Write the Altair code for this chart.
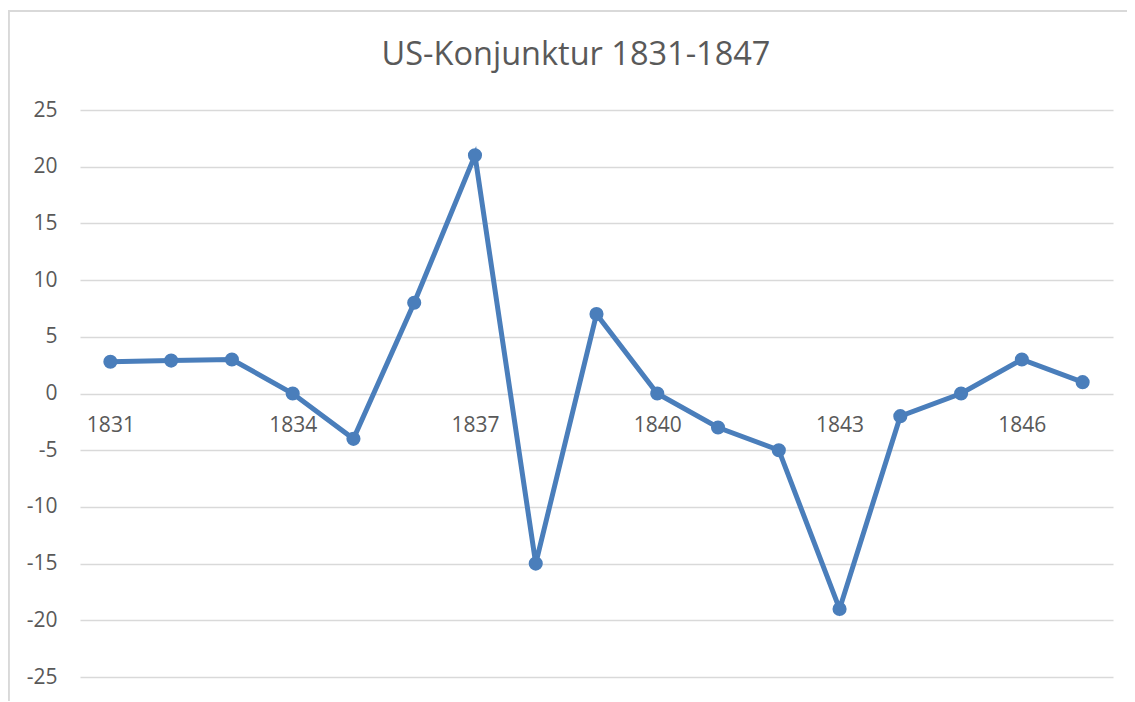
import altair as alt
import pandas as pd

years = [str(y) for y in range(1831, 1848)]
values = [2.8, 2.9, 3.0, 0, -4, 8, 21, -15, 7, 0, -3, -5, -19, -2, 0, 3, 1]
x_labels = ["1831", "1834", "1837", "1840", "1843", "1846"]
y_ticks = [-25, -20, -15, -10, -5, 0, 5, 10, 15, 20, 25]
title_text = "US-Konjunktur 1831-1847"

df = pd.DataFrame({"Jahr": years, "Wert": values})

FONT = "Open Sans"
GREY = "#595959"
BLUE = "#4a7ebb"

W, H = 1033, 567

x_enc = alt.X(
    "Jahr:O",
    scale=alt.Scale(type="point", padding=0.5),
    axis=alt.Axis(
        values=x_labels, title=None, domain=False, ticks=False, grid=False,
        labelAngle=0, labelFont=FONT, labelFontSize=21, labelColor=GREY,
        labelPadding=21, offset=-284, orient="bottom",
    ),
)
y_enc = alt.Y(
    "Wert:Q",
    scale=alt.Scale(domain=[-25, 25], nice=False, zero=False),
    axis=alt.Axis(
        values=y_ticks, title=None, domain=False, ticks=False,
        gridColor="#d9d9d9", gridWidth=1.5,
        labelExpr="'' + datum.value",
        labelFont=FONT, labelFontSize=21, labelColor=GREY, labelPadding=23,
    ),
)

line = alt.Chart(df).mark_line(color=BLUE, strokeWidth=5).encode(x=x_enc, y=y_enc)
pts = alt.Chart(df).mark_circle(color=BLUE, size=200, opacity=1).encode(x=x_enc, y=y_enc)

border_top = alt.Chart(df).mark_rule(color="#d9d9d9", strokeWidth=1.5, clip=False).encode(
    x=alt.value(-72), x2=alt.value(W + 60), y=alt.value(-99)
)
border_left = alt.Chart(df).mark_rule(color="#d9d9d9", strokeWidth=1.5, clip=False).encode(
    x=alt.value(-71.5), y=alt.value(-99), y2=alt.value(H + 40)
)
title = alt.Chart(pd.DataFrame({"t": [title_text]})).mark_text(
    font=FONT, fontSize=32.5, color=GREY, align="center", baseline="alphabetic"
).encode(text="t:N", x=alt.value(496), y=alt.value(-45))

chart = (
    alt.layer(border_top, border_left, line, pts, title)
    .properties(
        width=W, height=H,
        padding={"left": 72, "top": 102, "right": 14, "bottom": 24},
        autosize=alt.AutoSizeParams(type="none"),
    )
    .configure_view(stroke=None)
)

chart.save("out.html", embed_options={"renderer": "svg", "actions": False})
